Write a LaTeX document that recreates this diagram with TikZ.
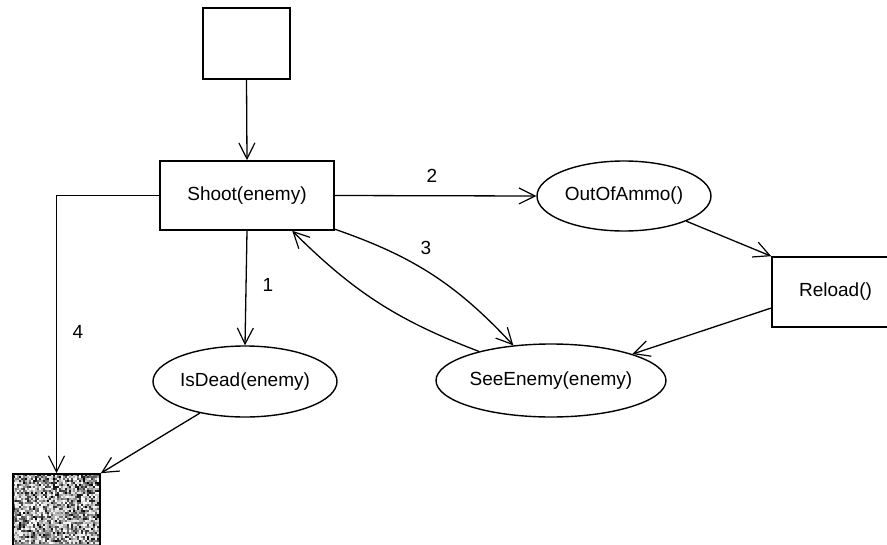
\documentclass[tikz,border=0pt]{standalone}
\usepackage{fontspec}
\setmainfont{Liberation Sans}
\usetikzlibrary{arrows.meta,shapes.geometric}
\begin{document}
\begin{tikzpicture}[x=1pt,y=-1pt,
  line width=1.3pt,
  font=\fontsize{19}{22}\selectfont,
  >={Straight Barb[length=16pt,width=16pt,line width=1.2pt]},
  flow/.style={->},
  statebox/.style={draw,rectangle,inner sep=0pt,line width=1.6pt},
  testnode/.style={draw,ellipse,inner sep=0pt,line width=1.4pt},
  num/.style={inner sep=0pt}]
\useasboundingbox (0,0) rectangle (887,544);
\clip (0,0) rectangle (887,544);

% states
\node[statebox,minimum width=87pt,minimum height=71pt] (start) at (246.5,43.5) {};
\node[statebox,minimum width=174pt,minimum height=69pt] (shoot) at (247,195.5) {Shoot(enemy)};
\node[testnode,minimum width=174pt,minimum height=70pt] (ammo) at (624,196) {OutOfAmmo()};
\node[statebox,minimum width=127pt,minimum height=70pt] (reload) at (835.5,292) {Reload()};
\node[testnode,minimum width=216pt,minimum height=73pt] (see) at (551,380.5) {SeeEnemy(enemy)};
\node[testnode,minimum width=184pt,minimum height=71pt] (dead) at (245,381.5) {IsDead(enemy)};

% final state, filled with a speckled texture
\node[statebox,minimum width=87pt,minimum height=90pt] (final) at (56.5,519) {};
\begin{scope}
  \clip (final.south west) rectangle (final.north east);
  \fill[black!45] (final.south west) rectangle (final.north east);
  \pgfmathsetseed{11}
  \foreach \i in {0,...,43}{
    \foreach \j in {0,...,34}{
      \pgfmathsetmacro\g{int(100*rnd^1.4)}
      \fill[black!\g] (13+2*\i,474+2*\j) rectangle ++(2,2);
    }
  }
\end{scope}
\node[statebox,minimum width=87pt,minimum height=90pt] at (final) {};

% transitions
\draw[flow] (start.south) -- (shoot.north);
\draw[flow] (shoot.south) -- (dead.north);
\draw[flow] (shoot.east) -- (ammo.west);
\draw[flow] (shoot.-21.6) to[bend left=14] (see.137);
\draw[flow] (see.158) to[bend left=12] (shoot.-38.7);
\draw[flow] (ammo.-22.6) -- (reload.north west);
\draw[flow] (reload.194) -- (see.18);
\draw[flow] (dead.215) -- (final.north east);
\draw[flow] (shoot.west) -| (final.north);

% transition numbers
\node[num] (n1) at (268,285) {1};
\node[num] (n2) at (432,176) {2};
\node[num] (n3) at (426,248) {3};
\node[num] (n4) at (78,332) {4};
\end{tikzpicture}
\end{document}
